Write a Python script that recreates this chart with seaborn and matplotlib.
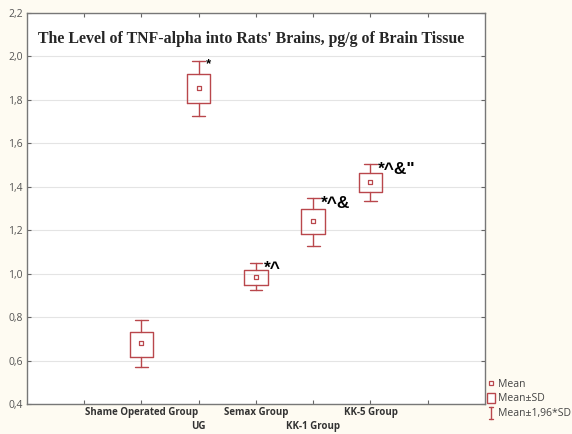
import matplotlib
matplotlib.use("Agg")
import matplotlib.pyplot as plt
from matplotlib.lines import Line2D
from matplotlib.patches import Patch
from matplotlib.legend_handler import HandlerBase
import seaborn as sns
import pandas as pd

# ---- data ----
groups = ["Shame Operated Group", "UG", "Semax Group", "KK-1 Group", "KK-5 Group"]
means = [0.679, 1.853, 0.986, 1.242, 1.423]
sd_low = [0.618, 1.784, 0.948, 1.181, 1.377]
sd_high = [0.733, 1.919, 1.017, 1.296, 1.462]
ci_low = [0.569, 1.726, 0.925, 1.127, 1.336]
ci_high = [0.787, 1.980, 1.048, 1.350, 1.503]
marks = ["", "*", "*^", "*^&", "*^&\""]
y_ticks = [0.4, 0.6, 0.8, 1.0, 1.2, 1.4, 1.6, 1.8, 2.0, 2.2]
title = "The Level of TNF-alpha into Rats' Brains, pg/g of Brain Tissue"
legend_labels = ["Mean", "Mean±SD", "Mean±1,96*SD"]

RED = "#b9474c"
BG = "#fefbf2"

sns.set_style("white")
plt.rcParams["font.family"] = ["Open Sans", "DejaVu Sans"]


class IBarHandle:
    pass


class HandlerIBar(HandlerBase):
    def create_artists(self, legend, orig_handle, xdescent, ydescent, width, height,
                       fontsize, trans):
        cx = width / 2 - xdescent
        y0 = -ydescent - 0.2 * height
        y1 = -ydescent + 1.1 * height
        cw = width * 0.5
        lines = [
            Line2D([cx, cx], [y0, y1], color=RED, lw=1.0),
            Line2D([cx - cw / 2, cx + cw / 2], [y0, y0], color=RED, lw=1.0),
            Line2D([cx - cw / 2, cx + cw / 2], [y1, y1], color=RED, lw=1.0),
        ]
        for ln in lines:
            ln.set_transform(trans)
        return lines


fig = plt.figure(figsize=(5.72, 4.34), dpi=100, facecolor=BG)
ax = fig.add_axes([0.0472, 0.069, 0.8006, 0.901])
ax.set_facecolor("white")

df = pd.DataFrame({"group": groups, "mean": means})
pos = list(range(len(groups)))

stats = []
for i in pos:
    stats.append(dict(med=means[i], q1=sd_low[i], q3=sd_high[i],
                      whislo=ci_low[i], whishi=ci_high[i], mean=means[i], fliers=[]))
ax.bxp(stats, positions=pos, widths=0.41, capwidths=0.22, showmeans=False,
       showfliers=False, manage_ticks=False,
       boxprops=dict(color=RED, linewidth=1.0),
       whiskerprops=dict(color=RED, linewidth=1.0),
       capprops=dict(color=RED, linewidth=1.0),
       medianprops=dict(linewidth=0))

sns.scatterplot(data=df, x="group", y="mean", ax=ax, marker="s", s=12,
                facecolor="white", edgecolor=RED, linewidth=0.9, zorder=5, legend=False)

for i in pos:
    if marks[i]:
        ax.text(i + 0.13, ci_high[i] + 0.01, marks[i], ha="left", va="top",
                fontsize=9.5 if i == 1 else 12.5, fontweight="bold", color="black",
                family=["Liberation Sans", "DejaVu Sans"])

ax.set_xlim(-2, 6)
ax.set_ylim(0.4, 2.2)
ax.set_xticks(list(range(-1, 6)))
ax.set_xticklabels([""] + groups + [""], fontsize=7, fontweight="bold", color="#333333")
ax.set_yticks(y_ticks)
ax.set_yticklabels([f"{v:.1f}".replace(".", ",") for v in y_ticks], fontsize=7.5, color="#555555")
ax.set_xlabel("")
ax.set_ylabel("")
ax.grid(axis="y", color="#e4e4e4", linewidth=0.8)
ax.set_axisbelow(True)
ax.tick_params(axis="both", direction="in", length=3, width=0.8, color="#666666",
               top=True, right=True, bottom=True, left=True, pad=2)
ax.tick_params(axis="y", pad=3)
# stagger the x labels: UG and KK-1 Group sit on a second line
xt = ax.xaxis.get_major_ticks()
for k, t in enumerate(xt):
    t.set_pad(12 if k in (2, 4) else 2)
for s in ax.spines.values():
    s.set_color("#777777")
    s.set_linewidth(1.0)

ax.text(0.025, 0.955, title, transform=ax.transAxes, ha="left", va="top",
        fontsize=11.4, fontweight="bold", family=["Liberation Serif", "DejaVu Serif"])

handles = [
    Line2D([], [], marker="s", ls="none", ms=3, mfc="white", mec=RED, mew=0.9),
    Patch(facecolor="white", edgecolor=RED, linewidth=1.0),
    IBarHandle(),
]
fig.legend(handles, legend_labels, loc="lower left", bbox_to_anchor=(0.852, 0.035),
           frameon=False, fontsize=7.5, handlelength=0.75, handleheight=1.0,
           handletextpad=0.3, labelspacing=0.3, borderaxespad=0, borderpad=0,
           labelcolor="#444444", handler_map={IBarHandle: HandlerIBar()})

fig.savefig("out.png", dpi=100, facecolor=BG)
